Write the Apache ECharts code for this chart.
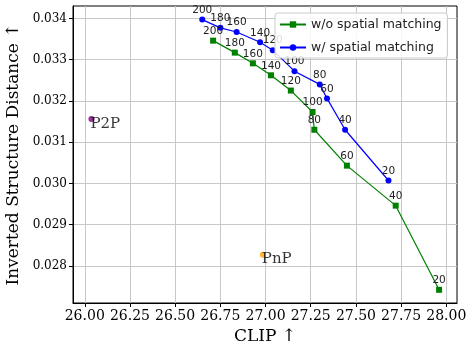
<!DOCTYPE html>
<html>
<head>
<meta charset="utf-8">
<script src="https://cdn.jsdelivr.net/npm/echarts@6/dist/echarts.min.js"></script>
<style>
  html, body { margin: 0; padding: 0; background: #fff; }
  #chart { width: 467px; height: 341px; }
</style>
</head>
<body>
<div id="chart"></div>
<script>
const steps = [200, 180, 160, 140, 120, 100, 80, 60, 40, 20]

// w/o spatial matching
const woClip = [26.71, 26.83, 26.93, 27.03, 27.14, 27.26, 27.27, 27.45, 27.72, 27.96]
const woDist = [0.03346, 0.03317, 0.03291, 0.03262, 0.03225, 0.03173, 0.0313, 0.03043, 0.02946, 0.02742]

// w/ spatial matching
const wClip = [26.65, 26.75, 26.84, 26.97, 27.04, 27.16, 27.30, 27.34, 27.44, 27.68]
const wDist = [0.03397, 0.03377, 0.03367, 0.03342, 0.03323, 0.03272, 0.0324, 0.03206, 0.0313, 0.03007]

const p2p = [26.037, 0.03156]
const pnp = [26.985, 0.02827]

const xTicks = [26, 26.25, 26.5, 26.75, 27, 27.25, 27.5, 27.75, 28]
const yTicks = [0.028, 0.029, 0.030, 0.031, 0.032, 0.033, 0.034]

const serif = 'DejaVu Serif'
const sans = 'DejaVu Sans'

const pairs = (xs, ys) => xs.map((x, i) => [x, ys[i], steps[i]])

const stepLabel = {
  show: true,
  position: 'top',
  distance: 1,
  fontFamily: sans,
  fontSize: 10.5,
  color: '#222',
  formatter: p => p.value[2],
}

const chart = echarts.init(document.getElementById('chart'))
chart.setOption({
  animation: false,
  grid: {
    left: 73,
    right: 10,
    top: 6,
    bottom: 38,
    outerBoundsMode: 'none',
    show: true,
    borderColor: '#000',
    borderWidth: 1,
  },
  legend: {
    orient: 'vertical',
    left: 275,
    top: 13,
    padding: [5, 6, 4, 4],
    itemWidth: 26,
    itemHeight: 8,
    itemGap: 10,
    backgroundColor: 'rgba(255,255,255,0.85)',
    borderColor: '#ccc',
    borderWidth: 1,
    borderRadius: 3,
    textStyle: { fontFamily: sans, fontSize: 12.5, color: '#222' },
    data: ['w/o spatial matching', 'w/ spatial matching'],
  },
  xAxis: {
    type: 'value',
    min: 25.935,
    max: 28.059,
    name: 'CLIP ↑',
    nameLocation: 'middle',
    nameGap: 22,
    nameTextStyle: { fontFamily: serif, fontSize: 17, color: '#000' },
    axisLine: { lineStyle: { color: '#000' } },
    axisTick: { show: true, length: 4, lineStyle: { color: '#000' }, customValues: xTicks },
    axisLabel: {
      fontFamily: serif, fontSize: 14, color: '#000', margin: 6,
      customValues: xTicks,
      formatter: v => v.toFixed(2),
    },
    splitLine: { show: true, lineStyle: { color: '#c8c8c8', width: 1 }, customValues: xTicks },
  },
  yAxis: {
    type: 'value',
    min: 0.0271,
    max: 0.0343,
    name: 'Inverted Structure Distance ↑',
    nameLocation: 'middle',
    nameGap: 45,
    nameTextStyle: { fontFamily: serif, fontSize: 17, color: '#000' },
    axisLine: { show: true, lineStyle: { color: '#000' } },
    axisTick: { show: true, length: 4, lineStyle: { color: '#000' }, customValues: yTicks },
    axisLabel: {
      fontFamily: serif, fontSize: 12, color: '#000', margin: 6,
      customValues: yTicks,
      formatter: v => v.toFixed(3),
    },
    splitLine: { show: true, lineStyle: { color: '#c8c8c8', width: 1 }, customValues: yTicks },
  },
  series: [
    {
      name: 'w/o spatial matching',
      type: 'line',
      data: pairs(woClip, woDist),
      color: '#008000',
      symbol: 'rect',
      symbolSize: 6,
      lineStyle: { width: 1.2 },
      label: stepLabel,
      z: 3,
    },
    {
      name: 'w/ spatial matching',
      type: 'line',
      data: pairs(wClip, wDist),
      color: '#0000ff',
      symbol: 'circle',
      symbolSize: 6,
      lineStyle: { width: 1.2 },
      label: stepLabel,
      z: 3,
    },
    {
      type: 'scatter',
      data: [p2p],
      color: '#800080',
      symbolSize: 6,
      label: {
        show: true, position: [2, 1], align: 'left', verticalAlign: 'top',
        fontFamily: serif, fontSize: 15, color: '#000', formatter: 'P2P',
      },
    },
    {
      type: 'scatter',
      data: [pnp],
      color: '#ffa500',
      symbolSize: 6,
      label: {
        show: true, position: [2, 0], align: 'left', verticalAlign: 'top',
        fontFamily: serif, fontSize: 15, color: '#000', formatter: 'PnP',
      },
    },
  ],
})
</script>
</body>
</html>
